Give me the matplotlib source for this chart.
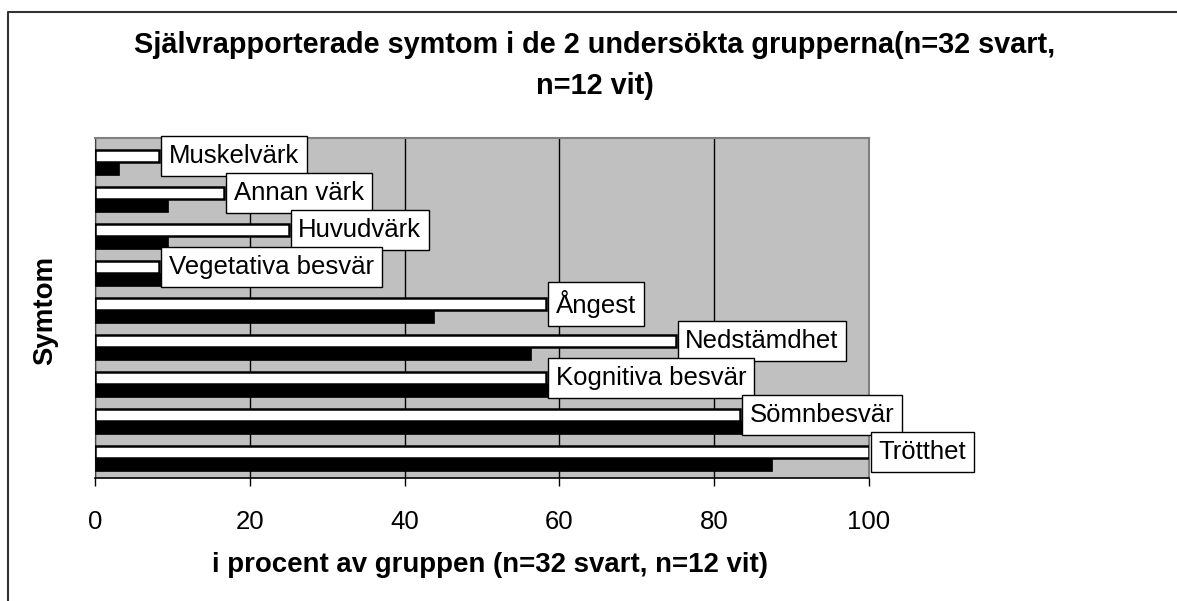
import matplotlib
matplotlib.use("Agg")
from matplotlib import pyplot as plt
from matplotlib.lines import Line2D
import numpy as np

plt.rcParams['font.family'] = ['Liberation Sans', 'DejaVu Sans']

symptoms = ["Muskelvärk", "Annan värk", "Huvudvärk", "Vegetativa besvär", "Ångest",
            "Nedstämdhet", "Kognitiva besvär", "Sömnbesvär", "Trötthet"]
white_pct = [8.3, 16.7, 25.0, 8.3, 58.3, 75.0, 58.3, 83.3, 100.0]   # n=12 vit
black_pct = [3.1, 9.4, 9.4, 9.4, 43.8, 56.3, 59.4, 84.4, 87.5]      # n=32 svart
x_ticks = [0, 20, 40, 60, 80, 100]

fig = plt.figure(figsize=(11.77, 6.01), dpi=100)
ax = fig.add_axes([95 / 1177, 1 - 478 / 601, 774 / 1177, 340 / 601])

y = np.arange(len(symptoms))
h = 0.34
ax.barh(y - h / 2, white_pct, h, color='white', edgecolor='black', linewidth=1.8, zorder=3)
ax.barh(y + h / 2, black_pct, h, color='black', edgecolor='black', linewidth=0.5, zorder=3)

# category names as boxed labels at the end of the white bars
for yi, val, name in zip(y, white_pct, symptoms):
    ax.annotate(name, (val, yi - h / 2), xytext=(7, 0), textcoords='offset points',
                ha='left', va='center', fontsize=18.5, zorder=5,
                bbox=dict(boxstyle='square,pad=0.3', fc='white', ec='black', lw=1))

ax.set_xlim(0, 100)
ax.set_ylim(8.53, -0.66)
ax.set_facecolor('#C0C0C0')
ax.set_xticks(x_ticks)
ax.set_yticks([])
ax.tick_params(axis='x', direction='out', length=6, width=1, pad=17, labelsize=18.5)
ax.grid(axis='x', color='black', linewidth=1, zorder=1)
for s in ['top', 'right']:
    ax.spines[s].set_color('#808080')
    ax.spines[s].set_linewidth(1.5)
ax.spines['left'].set_color('#404040')
ax.spines['bottom'].set_color('black')
ax.spines['bottom'].set_linewidth(1.2)

fig.text(595 / 1177, 1 - 45 / 601,
         "Självrapporterade symtom i de 2 undersökta grupperna(n=32 svart,",
         ha='center', va='center', fontsize=20.8, fontweight='bold')
fig.text(595 / 1177, 1 - 86 / 601, "n=12 vit)",
         ha='center', va='center', fontsize=20.8, fontweight='bold')
fig.text(490 / 1177, 1 - 565 / 601, "i procent av gruppen (n=32 svart, n=12 vit)",
         ha='center', va='center', fontsize=19.9, fontweight='bold')
fig.text(45 / 1177, 1 - 310 / 601, "Symtom", rotation=90,
         ha='center', va='center', fontsize=19.9, fontweight='bold')

# outer chart frame (only left and top edges visible)
fx, fy = 8 / 1177, 1 - 12 / 601
fig.add_artist(Line2D([fx, fx, 1.0], [0.0, fy, fy], transform=fig.transFigure,
                      color='#333333', linewidth=1.5))

fig.savefig("out.png", dpi=100)
